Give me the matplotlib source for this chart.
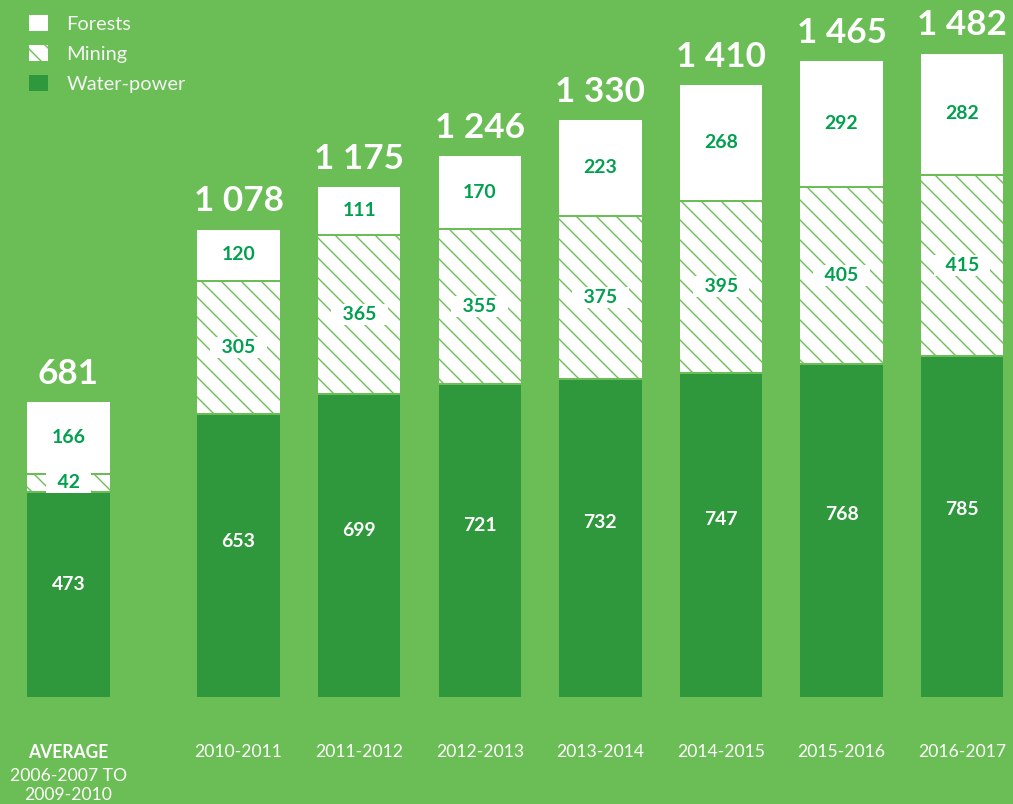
import matplotlib.pyplot as plt
from matplotlib.patches import Patch
import numpy as np

# data
periods = ['AVERAGE', '2010-2011', '2011-2012', '2012-2013', '2013-2014',
           '2014-2015', '2015-2016', '2016-2017']
avg_period = '2006-2007 TO\n2009-2010'
water = [473, 653, 699, 721, 732, 747, 768, 785]
mining = [42, 305, 365, 355, 375, 395, 405, 415]
forests = [166, 120, 111, 170, 223, 268, 292, 282]
totals = [681, 1078, 1175, 1246, 1330, 1410, 1465, 1482]

bg = '#6bbe55'
dark = '#2f983c'
lblgreen = '#00a04e'

DPI = 120
S = 90 / DPI  # sizes below were tuned at 90 dpi

plt.rcParams['font.family'] = ['Lato', 'DejaVu Sans']
plt.rcParams['hatch.linewidth'] = 1.1 * S

fig = plt.figure(figsize=(1013 / DPI, 804 / DPI), dpi=DPI, facecolor=bg)
ax = fig.add_axes([0, 106 / 804, 1, 698 / 804])
ax.set_facecolor(bg)

# first bar sits apart from the yearly ones
x = np.array([0] + [1.41 + i for i in range(len(periods) - 1)])
w = 0.70
water = np.array(water)
mining = np.array(mining)
forests = np.array(forests)

lw = 1.6 * S
ax.bar(x, water, w, color=dark, edgecolor=bg, linewidth=lw)
ax.bar(x, mining, w, bottom=water, color='white', edgecolor=bg,
       linewidth=lw, hatch='\\\\')
ax.bar(x, forests, w, bottom=water + mining, color='white', edgecolor=bg,
       linewidth=lw)

for i in range(len(x)):
    ax.text(x[i], water[i] * 0.55, str(water[i]), ha='center', va='center',
            color='white', fontsize=15.5 * S, fontweight='bold')
    ax.text(x[i], water[i] + mining[i] / 2, '  ' + str(mining[i]) + '  ',
            ha='center', va='center', color=lblgreen, fontsize=15.5 * S,
            fontweight='bold',
            bbox=dict(boxstyle='square,pad=0.1', fc='white', ec='none'))
    ax.text(x[i], water[i] + mining[i] + forests[i] / 2, str(forests[i]),
            ha='center', va='center', color=lblgreen, fontsize=15.5 * S,
            fontweight='bold')
    ax.annotate(f'{totals[i]:,}'.replace(',', ' '), (x[i], totals[i]),
                xytext=(0, 9 * S), textcoords='offset points', ha='center',
                va='bottom', color='white', fontsize=28 * S, fontweight='bold')

ax.set_xlim(-68.5 / 120.6, (1013 - 68.5) / 120.6)
ax.set_ylim(0, 698 / 0.4355)
ax.set_xticks(x, periods)
ax.tick_params(axis='x', length=0, pad=37 * S, colors='white',
               labelsize=14 * S)
ax.get_xticklabels()[0].set_fontweight('bold')
ax.set_yticks([])
for s in ax.spines.values():
    s.set_visible(False)

ax.annotate(avg_period, (x[0], 0), xytext=(0, -56 * S),
            textcoords='offset points', ha='center', va='top', color='white',
            fontsize=14 * S, linespacing=1.2, annotation_clip=False)

handles = [Patch(fc='white', ec=bg, lw=lw, label='Forests'),
           Patch(fc='white', ec=bg, lw=lw, hatch='\\\\', label='Mining'),
           Patch(fc=dark, ec=bg, lw=lw, label='Water-power')]
leg = fig.legend(handles=handles, loc='upper left', bbox_to_anchor=(0.016, 0.998),
                 frameon=False, fontsize=16 * S, labelcolor='#f4f4f4',
                 handlelength=1.05, handleheight=1.05, handletextpad=0.85,
                 labelspacing=0.55, borderaxespad=0.2)

fig.savefig('out.png', dpi=DPI, facecolor=bg)
